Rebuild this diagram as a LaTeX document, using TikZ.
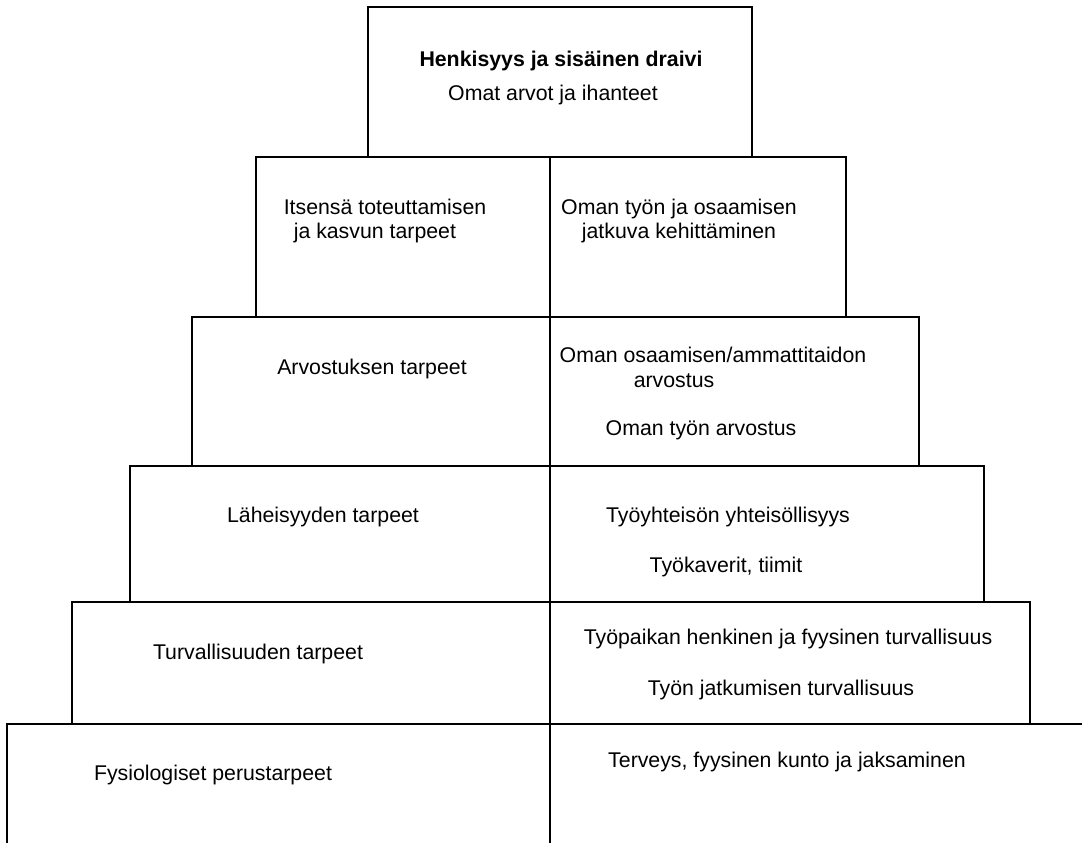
\documentclass[tikz,border=0pt]{standalone}
\usepackage{fontspec}
\setmainfont{Liberation Sans}
\begin{document}
\begin{tikzpicture}[x=0.5pt,y=-0.5pt,
	tier/.style={draw,line width=1pt},
	txt/.style={font=\fontsize{10.65}{12}\selectfont,inner sep=0pt,align=center},
	head/.style={txt,font=\fontsize{10.65}{12}\selectfont\bfseries}]
	\useasboundingbox (0,0) rectangle (1082,843);
	\draw[tier] (368,7) rectangle (752,157);
	\draw[tier] (256,157) rectangle (846,317);
	\draw[tier] (192,317) rectangle (919,466);
	\draw[tier] (130,466) rectangle (984,602);
	\draw[tier] (72,602) rectangle (1030,724);
	\draw[tier] (1082,724) -- (7,724) -- (7,843);
	\draw[tier] (550,157) -- (550,843);
	
	\node[head] (top1) at (561,61) {Henkisyys ja sisäinen draivi};
	\node[txt] (top2) at (553,95) {Omat arvot ja ihanteet};
	\node[txt,align=left] (l2) at (385,221) {Itsensä toteuttamisen\\\hspace*{0.47em}ja kasvun tarpeet};
	\node[txt] (r2) at (679,221) {Oman työn ja osaamisen\\jatkuva kehittäminen};
	\node[txt] (l3) at (372,369) {Arvostuksen tarpeet};
	\node[txt] (r3a) at (713,355) {Oman osaamisen/ammattitaidon};
	\node[txt] (r3b) at (674,381) {arvostus};
	\node[txt] (r3c) at (701,430) {Oman työn arvostus};
	\node[txt] (l4) at (323,517) {Läheisyyden tarpeet};
	\node[txt] (r4a) at (728,517) {Työyhteisön yhteisöllisyys};
	\node[txt] (r4b) at (726,567) {Työkaverit, tiimit};
	\node[txt] (l5) at (258,654) {Turvallisuuden tarpeet};
	\node[txt] (r5a) at (788,639) {Työpaikan henkinen ja fyysinen turvallisuus};
	\node[txt] (r5b) at (781,690) {Työn jatkumisen turvallisuus};
	\node[txt] (l6) at (213,775) {Fysiologiset perustarpeet};
	\node[txt] (r6) at (787,762) {Terveys, fyysinen kunto ja jaksaminen};
\end{tikzpicture}
\end{document}
